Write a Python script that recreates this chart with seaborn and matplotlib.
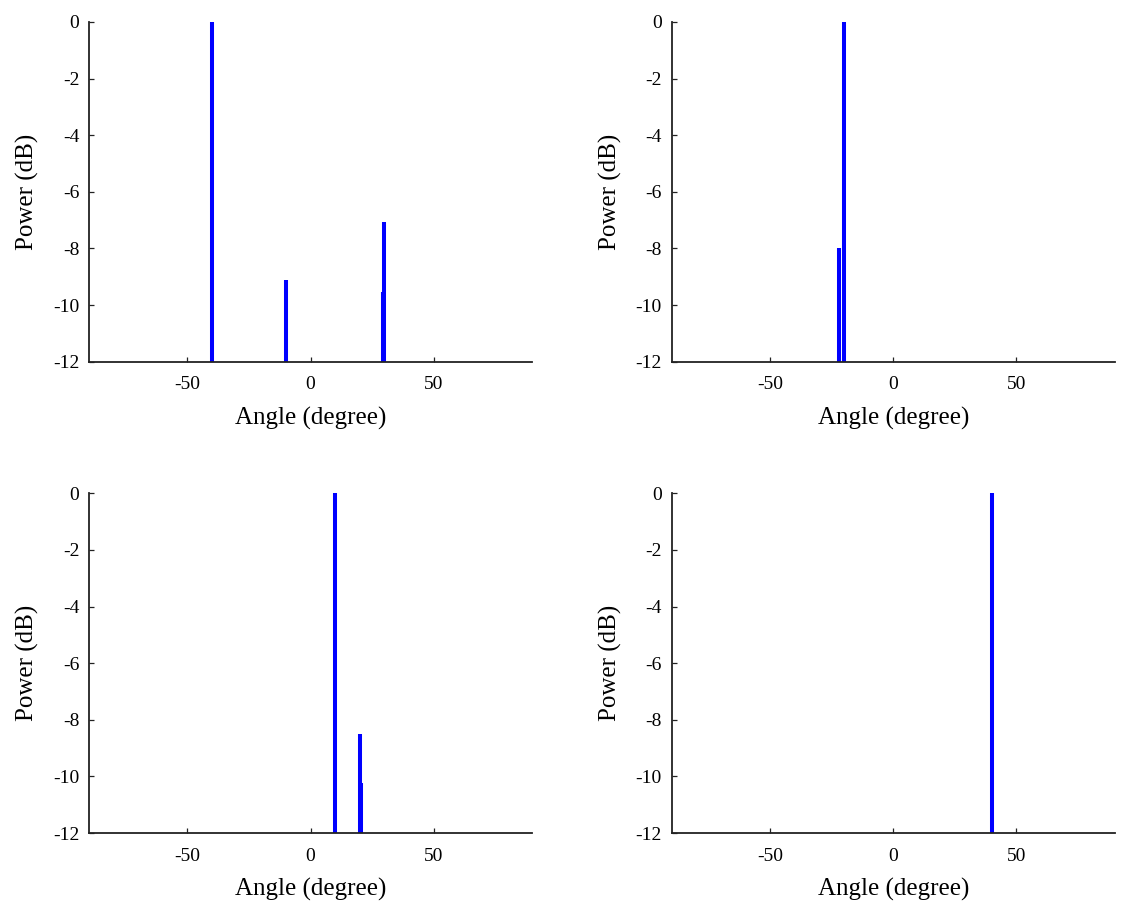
import matplotlib
matplotlib.use("Agg")
import numpy as np
import pandas as pd
import seaborn as sns
import matplotlib.pyplot as plt

# Spectral peaks of the four estimates: angle (degree) and power (dB)
angles_a = [-40.0, -10.0, 29.6, 30.0]
power_a = [0.0, -9.1, -9.55, -7.05]

angles_b = [-22.0, -20.0]
power_b = [-8.0, 0.0]

angles_c = [10.0, 20.0, 20.4]
power_c = [0.0, -8.5, -10.25]

angles_d = [40.0]
power_d = [0.0]

x_ticks = [-50, 0, 50]
y_ticks = [0, -2, -4, -6, -8, -10, -12]
x_label = "Angle (degree)"
y_label = "Power (dB)"
x_limits = (-90, 90)
y_limits = (-12, 0)

panels = [(angles_a, power_a), (angles_b, power_b),
          (angles_c, power_c), (angles_d, power_d)]

sns.set_theme(style="ticks")
plt.rcParams["font.family"] = ["Liberation Serif", "DejaVu Serif"]
plt.rcParams["axes.unicode_minus"] = False
plt.rcParams["xtick.direction"] = "in"
plt.rcParams["ytick.direction"] = "in"

fig = plt.figure(figsize=(11.22, 9.02), dpi=100)

W, H = 1122.0, 902.0
lefts = [89.0, 671.7]
tops = [22.0, 493.3]
ax_w = 443.0
ax_h = 339.7

for i, (angles, power) in enumerate(panels):
    row, col = divmod(i, 2)
    rect = [lefts[col] / W, 1 - (tops[row] + ax_h) / H, ax_w / W, ax_h / H]
    ax = fig.add_axes(rect)

    # each peak is a vertical stroke rising from below the floor to its power
    rows = []
    for k, (a, p) in enumerate(zip(angles, power)):
        rows.append({"spike": k, "angle": a, "power": y_limits[0] - 1})
        rows.append({"spike": k, "angle": a, "power": p})
    df = pd.DataFrame(rows)

    sns.lineplot(data=df, x="angle", y="power", units="spike",
                 estimator=None, sort=False, color="#0000ff",
                 linewidth=2.9, solid_capstyle="butt", ax=ax,
                 legend=False)

    ax.set_xlim(*x_limits)
    ax.set_ylim(*y_limits)
    ax.set_xticks(x_ticks)
    ax.set_yticks(y_ticks)
    ax.set_xticklabels([str(t) for t in x_ticks])
    ax.set_yticklabels([str(t) for t in y_ticks])
    ax.tick_params(axis="both", labelsize=14, length=3.5, width=0.9,
                   color="#222222", labelcolor="black")
    ax.tick_params(axis="x", pad=10.5)
    ax.tick_params(axis="y", pad=7)
    ax.set_xlabel(x_label, fontsize=18, color="black", labelpad=9.5)
    ax.set_ylabel(y_label, fontsize=18, color="black", labelpad=10)
    sns.despine(ax=ax)
    for side in ("left", "bottom"):
        ax.spines[side].set_linewidth(1.3)
        ax.spines[side].set_color("#222222")
    ax.grid(False)
    ax.set_facecolor("white")

fig.savefig("out.png", dpi=100, facecolor="white")
